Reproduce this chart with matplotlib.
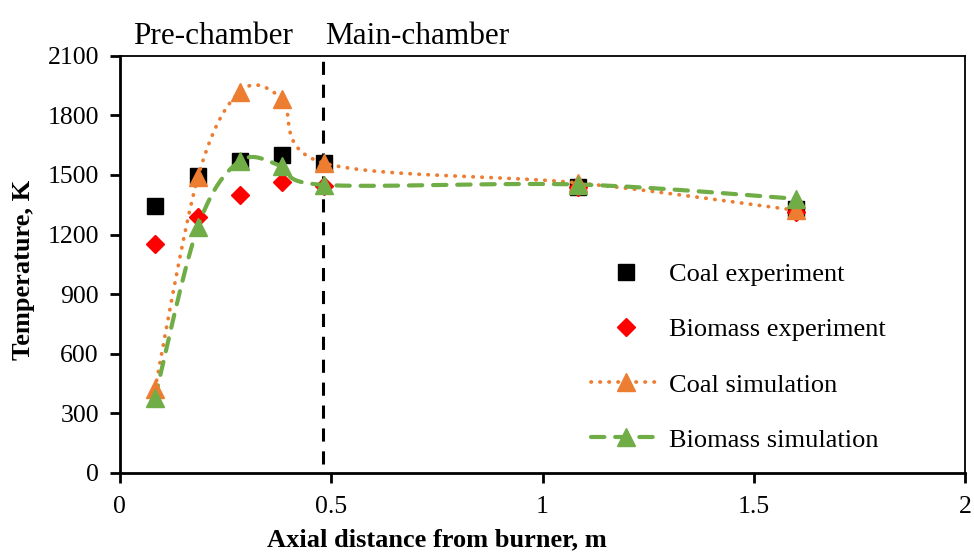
import numpy as np
import matplotlib.pyplot as plt

plt.rcParams['font.family'] = ['Liberation Serif', 'DejaVu Serif']

# axial positions of the measurement / probe ports (m)
dist = [0.083, 0.185, 0.284, 0.383, 0.483, 1.084, 1.6]

# temperatures (K)
coal_exp = [1345, 1496, 1571, 1601, 1561, 1440, 1330]
bio_exp = [1150, 1289, 1400, 1465, 1445, 1440, 1312]
coal_sim = [420, 1490, 1920, 1885, 1560, 1460, 1322]
bio_sim = [375, 1240, 1570, 1545, 1450, 1452, 1380]

chamber_split = 0.48


def smooth(x, y, n=40):
    # Catmull-Rom style Bezier smoothing through every point
    p = np.column_stack([x, y]).astype(float)
    p = np.vstack([p[0], p, p[-1]])
    out = []
    t = np.linspace(0, 1, n)[:, None]
    for i in range(1, len(p) - 2):
        p0, p1, p2, p3 = p[i - 1], p[i], p[i + 1], p[i + 2]
        c1 = p1 + (p2 - p0) / 6
        c2 = p2 - (p3 - p1) / 6
        seg = ((1 - t) ** 3) * p1 + 3 * ((1 - t) ** 2) * t * c1 \
            + 3 * (1 - t) * t ** 2 * c2 + t ** 3 * p2
        out.append(seg if i == 1 else seg[1:])
    seg = np.vstack(out)
    return seg[:, 0], seg[:, 1]


fig, ax = plt.subplots(figsize=(9.74, 5.53), dpi=100)
fig.subplots_adjust(left=0.123, right=0.991, top=0.899, bottom=0.145)

orange = '#ED7D31'
green = '#70AD47'
dots = (0, (0.1, 2.3))
dashes = (0, (3.2, 2.6))

ax.plot(dist, coal_exp, 's', color='black', markersize=11.5, zorder=3)
ax.plot(dist, bio_exp, 'D', color='#FF0000', markersize=9, zorder=3)

xs, ys = smooth(dist, coal_sim)
ax.plot(xs, ys, color=orange, lw=2.7, linestyle=dots,
        dash_capstyle='round', zorder=4)
ax.plot(dist, coal_sim, '^', color=orange, markersize=12.5, zorder=5)

xs, ys = smooth(dist, bio_sim)
ax.plot(xs, ys, color=green, lw=3, linestyle=dashes,
        dash_capstyle='round', zorder=4)
ax.plot(dist, bio_sim, '^', color=green, markersize=12.5, zorder=5)

ax.axvline(chamber_split, ymin=0.02, ymax=1, color='black', lw=2.2,
           linestyle=(0, (4.3, 3.2)), zorder=2)

ax.set_xlim(0, 2)
ax.set_ylim(0, 2100)
ax.set_xticks([0, 0.5, 1, 1.5, 2])
ax.set_xticklabels(['0', '0.5', '1', '1.5', '2'])
ax.set_yticks(range(0, 2101, 300))
ax.tick_params(direction='out', length=7, width=2, labelsize=18.5)
ax.tick_params(axis='x', pad=10)
ax.tick_params(axis='y', pad=8)
for s in ax.spines.values():
    s.set_linewidth(1.3)
ax.spines['left'].set_linewidth(2)
ax.spines['bottom'].set_linewidth(2)

ax.set_xlabel('Axial distance from burner, m', fontsize=19, fontweight='bold',
              va='baseline')
ax.xaxis.set_label_coords(0.375, -0.177)
ax.set_ylabel('Temperature, K', fontsize=19, fontweight='bold')
ax.yaxis.set_label_coords(-0.1, 0.487)

ax.text(0.1105, 1.012, 'Pre-chamber', transform=ax.transAxes, fontsize=22.5,
        ha='center', va='bottom')
ax.text(0.352, 1.012, 'Main-chamber', transform=ax.transAxes, fontsize=22.5,
        ha='center', va='bottom')

h = [
    plt.Line2D([], [], marker='s', color='black', ls='none', markersize=11.5),
    plt.Line2D([], [], marker='D', color='#FF0000', ls='none', markersize=9),
    plt.Line2D([], [], marker='^', color=orange, markersize=12.5, lw=2.7,
               linestyle=dots, dash_capstyle='round'),
    plt.Line2D([], [], marker='^', color=green, markersize=12.5, lw=3,
               linestyle=dashes, dash_capstyle='round'),
]
ax.legend(h, ['Coal experiment', 'Biomass experiment', 'Coal simulation',
              'Biomass simulation'],
          loc='center left', bbox_to_anchor=(0.593, 0.354),
          bbox_transform=fig.transFigure, frameon=False, borderpad=0,
          fontsize=19, handlelength=2.65, labelspacing=1.2, handletextpad=0.3)

fig.savefig('out.png', dpi=100)
